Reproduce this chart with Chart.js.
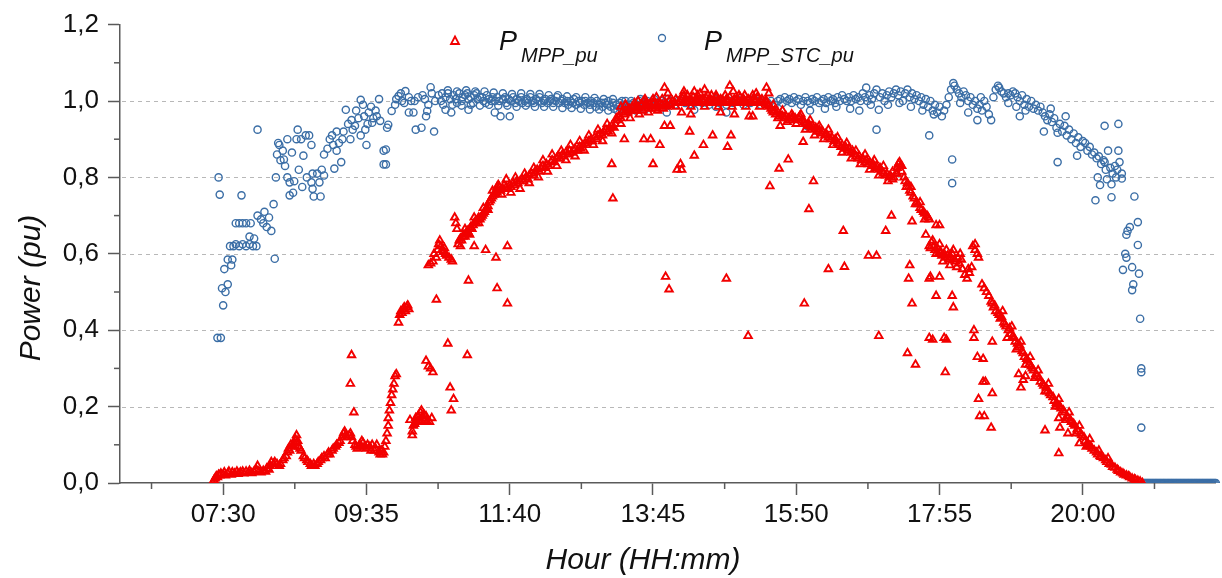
<!DOCTYPE html>
<html>
<head>
<meta charset="utf-8">
<script src="https://cdn.jsdelivr.net/npm/chart.js@4.4.1/dist/chart.umd.min.js"></script>
<style>
  body { margin: 0; background: #fff; }
  canvas { display: block; }
</style>
</head>
<body>
<canvas id="myChartScatter" width="1222" height="578"></canvas>
<script>
// x = minutes after midnight, y = power in pu
let hourTicks = [450, 575, 700, 825, 950, 1075, 1200];
let hourMinorTicks = [387.5, 512.5, 637.5, 762.5, 887.5, 1012.5, 1137.5, 1262.5];
let powerGrid = [0.2, 0.4, 0.6, 0.8, 1.0];
let powerMinorTicks = [0.1, 0.3, 0.5, 0.7, 0.9, 1.1];

// P_MPP_pu - main band
let mppBand = [
    [441,0.000],[442,0.008],[443,0.012],[444,0.018],[445,0.015],[446,0.022],[447,0.02],[448,0.025],[450,0.022],[451,0.028],
    [452,0.02],[454,0.025],[455,0.03],[457,0.022],[458,0.028],[460,0.025],[462,0.03],[463,0.024],[465,0.028],[467,0.03],
    [468,0.025],[470,0.03],[472,0.027],[473,0.032],[475,0.026],[477,0.03],[479,0.035],[480,0.045],[481,0.03],[483,0.028],
    [485,0.032],[487,0.03],[488,0.038],[490,0.035],[491,0.045],[492,0.055],[494,0.05],[495,0.055],[497,0.05],[499,0.045],
    [500,0.05],[502,0.06],[503,0.065],[505,0.07],[506,0.08],[507,0.09],[508,0.085],[509,0.1],[510,0.095],[511,0.1],
    [512,0.105],[513,0.115],[514,0.125],[514,0.105],[515,0.11],[516,0.095],[517,0.09],[518,0.085],[520,0.07],[521,0.065],
    [523,0.06],[524,0.055],[526,0.05],[527,0.045],[529,0.05],[530,0.045],[532,0.05],[533,0.055],[535,0.06],[536,0.065],
    [538,0.07],[539,0.065],[541,0.075],[542,0.08],[543,0.075],[545,0.085],[546,0.09],[548,0.095],[549,0.1],[551,0.105],
    [552,0.11],[554,0.12],[555,0.13],[556,0.135],[557,0.125],[558,0.12],[560,0.125],[561,0.13],[562,0.12],[563,0.11],
    [565,0.1],[566,0.095],[567,0.09],[569,0.1],[570,0.095],[571,0.11],[572,0.105],[574,0.095],[575,0.09],[576,0.1],
    [578,0.095],[579,0.085],[580,0.1],[582,0.085],[583,0.09],[584,0.1],[586,0.08],[587,0.075],[588,0.085],[589,0.075],
    [590,0.08],[591,0.095],[592,0.11],[593,0.13],[594,0.15],[594,0.17],[595,0.19],[596,0.21],[597,0.23],[598,0.245],
    [599,0.26],[600,0.28],[601,0.285],
    [603,0.42],[604,0.44],[605,0.45],[606,0.445],[607,0.455],[608,0.46],[609,0.45],[610,0.46],[611,0.465],[612,0.455],
    [613,0.165],[615,0.125],[615,0.135],[616,0.15],[617,0.155],[618,0.17],[619,0.16],[620,0.175],[621,0.165],[622,0.185],
    [622,0.16],[623,0.19],[624,0.17],[625,0.18],[626,0.165],[627,0.175],[628,0.16],[630,0.16],[632,0.17],
    [627,0.32],[629,0.305],[631,0.30],[633,0.29],
    [629,0.57],[631,0.575],[633,0.58],[634,0.6],[636,0.59],[637,0.61],[638,0.625],[639,0.635],[640,0.62],[641,0.61],
    [642,0.605],[643,0.615],[644,0.6],[645,0.595],[647,0.59],[649,0.585],[650,0.58],[652,0.695],[653,0.68],[654,0.665],
    [655,0.625],[656,0.635],[657,0.64],[658,0.635],[659,0.645],[660,0.65],[661,0.645],[662,0.655],[663,0.66],[664,0.655],
    [665,0.665],[666,0.67],[667,0.665],[668,0.675],[669,0.68],[670,0.685],[671,0.68],[672,0.69],[673,0.695],[674,0.69],
    [675,0.695],[676,0.7],[677,0.705],[678,0.71],[679,0.715],[680,0.72],[681,0.725],[682,0.735],[683,0.74],[684,0.745],
    [685,0.75],[686,0.755],[687,0.76],[688,0.765],[689,0.775],[690,0.78],
    [691,0.775],[692,0.765],[694,0.77],[695,0.78],[697,0.775],[698,0.77],[700,0.78],[701,0.775],[703,0.785],[704,0.78],
    [706,0.79],[707,0.785],[709,0.79],[711,0.795],[712,0.79],[714,0.8],[716,0.795],[717,0.805],[719,0.81],[721,0.805],
    [722,0.815],[724,0.82],[726,0.815],[727,0.825],[729,0.83],[731,0.825],[732,0.835],[734,0.83],[736,0.84],[737,0.845],
    [739,0.84],[741,0.85],[742,0.855],[744,0.85],[746,0.86],[747,0.855],[749,0.865],[751,0.86],[752,0.87],[754,0.865],
    [756,0.87],[757,0.875],[759,0.87],[761,0.88],[762,0.875],[764,0.885],[766,0.89],[767,0.885],[769,0.895],[771,0.9],
    [772,0.895],[774,0.905],[776,0.9],[777,0.91],[779,0.915],[781,0.91],[782,0.92],[784,0.925],[786,0.92],[787,0.93],
    [789,0.935],[791,0.93],[792,0.94],
    [794,0.95],[795,0.96],[797,0.955],[798,0.97],[800,0.965],[801,0.975],[803,0.97],[804,0.98],[806,0.975],[807,0.985],
    [809,0.98],[810,0.975],[812,0.985],[813,0.98],[815,0.99],[816,0.975],[818,0.985],[819,0.995],[821,0.98],[822,0.99],
    [824,0.985],[825,0.995],[827,0.98],[828,0.99],[830,0.985],[831,0.995],[833,0.99],[834,0.98],[836,0.995],[837,0.985],
    [839,1.0],[840,0.99],
    [842,1.0],[844,0.995],[845,1.005],[847,0.995],[848,1.0],[850,1.01],[851,0.995],[853,1.005],[854,1.0],[856,0.995],
    [857,1.005],[859,1.0],[860,1.01],[862,0.995],[863,1.005],[865,1.0],[866,0.995],[868,1.005],[869,1.0],[871,1.01],
    [872,0.995],[874,1.0],[875,1.005],[877,0.995],[878,1.0],[880,1.01],[881,1.0],[883,0.995],[884,1.005],[886,1.0],
    [887,0.995],[889,1.005],[890,1.0],[892,1.01],[893,0.995],[895,1.0],[896,1.005],[898,0.995],[899,1.0],[901,1.01],
    [902,0.995],[904,1.005],[905,1.0],[907,0.995],[908,1.005],[910,1.0],[911,0.995],[913,1.005],[914,1.0],[916,1.01],
    [917,0.995],[919,1.0],[920,1.005],[922,0.995],[923,1.0],[925,0.99],[926,0.985],
    [928,0.98],[929,0.975],[930,0.97],[931,0.975],[932,0.965],[934,0.97],[935,0.96],[936,0.965],[938,0.96],
    [940,0.955],[941,0.96],[943,0.955],[944,0.95],[946,0.955],[947,0.96],[949,0.955],[950,0.95],[952,0.955],[953,0.96],
    [955,0.95],[957,0.945],[958,0.94],[960,0.935],[961,0.94],[963,0.93],[964,0.935],[966,0.925],[967,0.93],[969,0.92],
    [970,0.925],[972,0.915],[973,0.92],[975,0.91],[976,0.915],[978,0.905],
    [980,0.9],[981,0.905],[983,0.895],[984,0.9],[986,0.89],[987,0.885],[989,0.88],[990,0.885],[992,0.875],[993,0.88],
    [995,0.87],[996,0.875],[998,0.865],[999,0.87],[1001,0.86],
    [1002,0.855],[1004,0.85],[1005,0.855],[1007,0.845],[1008,0.85],[1010,0.84],[1011,0.845],[1013,0.835],[1014,0.84],[1016,0.83],
    [1017,0.835],[1019,0.825],[1020,0.83],[1022,0.82],[1023,0.825],[1025,0.815],
    [1026,0.81],[1028,0.805],[1029,0.81],[1031,0.8],[1032,0.805],[1034,0.795],[1035,0.8],[1037,0.81],[1038,0.825],[1039,0.835],
    [1040,0.84],[1041,0.83],[1042,0.815],[1044,0.8],[1045,0.79],[1047,0.785],
    [1048,0.775],[1049,0.765],[1050,0.76],[1052,0.75],[1053,0.745],[1055,0.735],[1056,0.73],[1058,0.72],[1059,0.715],[1061,0.71],
    [1062,0.705],[1064,0.7],[1065,0.695],[1066,0.69],
    [1066,0.62],[1067,0.615],[1068,0.63],[1070,0.62],[1071,0.61],[1073,0.615],[1074,0.6],[1076,0.605],[1077,0.595],[1079,0.6],
    [1080,0.59],[1082,0.595],[1083,0.585],[1085,0.59],[1086,0.6],[1088,0.585],[1089,0.58],[1091,0.59],[1092,0.575],[1094,0.585],
    [1095,0.56],[1097,0.545],[1099,0.535],[1101,0.55],[1103,0.565],[1104,0.62],[1106,0.61],[1108,0.6],[1109,0.59],
    [1112,0.52],[1114,0.51],[1116,0.5],[1118,0.49],
    [1120,0.475],[1121,0.47],[1122,0.46],[1123,0.465],[1124,0.45],[1126,0.445],[1127,0.44],[1128,0.43],[1129,0.435],[1131,0.42],
    [1132,0.415],[1133,0.41],[1135,0.4],[1136,0.405],[1137,0.39],[1139,0.385],[1140,0.38],[1141,0.37],[1143,0.365],[1144,0.355],
    [1145,0.36],[1147,0.345],[1148,0.34],[1149,0.33],[1151,0.325],[1152,0.32],[1153,0.31],[1155,0.305],[1156,0.3],[1157,0.295],
    [1159,0.285],[1160,0.28],[1162,0.275],[1163,0.265],[1165,0.26],[1166,0.255],[1168,0.25],[1169,0.24],[1171,0.235],[1172,0.23],
    [1174,0.225],[1175,0.215],[1177,0.21],[1178,0.205],[1180,0.2],[1181,0.195],[1183,0.19],[1184,0.185],[1186,0.175],[1187,0.17],
    [1189,0.165],[1190,0.16],[1192,0.155],[1193,0.15],[1195,0.14],[1196,0.135],[1198,0.13],[1199,0.125],[1201,0.12],[1202,0.11],
    [1204,0.105],[1205,0.1],[1207,0.095],[1208,0.09],[1210,0.085],[1212,0.08],[1213,0.075],[1215,0.07],[1216,0.068],[1218,0.065],
    [1220,0.06],[1221,0.055],[1223,0.05],[1225,0.048],[1226,0.042],[1228,0.04],[1230,0.035],[1231,0.032],[1233,0.028],[1235,0.025],
    [1236,0.022],[1238,0.02],[1240,0.018],[1241,0.015],[1243,0.012],[1245,0.01],[1246,0.008],[1248,0.006],[1250,0.004],[1252,0.0],
    [1130,0.45],[1138,0.41],[1146,0.37],[1154,0.33],[1161,0.295],[1170,0.26],[1179,0.22],[1188,0.185],[1197,0.15],[1206,0.115],
    [1214,0.085],[1222,0.065],[1134,0.38],[1142,0.35],[1150,0.31],[1158,0.275],[1167,0.24],[1176,0.2],[1185,0.165],[1194,0.13],
    [1203,0.095]
];

// P_MPP_pu - second row that gives the band its width
let mppBandEdge = [
    [657,0.62],[661,0.665],[665,0.65],[669,0.695],[673,0.68],[677,0.72],[681,0.715],[685,0.765],[689,0.76],
    [693,0.755],[697,0.795],[701,0.76],[705,0.8],[709,0.77],[713,0.81],[717,0.785],[721,0.825],[725,0.8],[729,0.845],
    [733,0.815],[737,0.86],[741,0.83],[745,0.87],[749,0.845],[753,0.885],[757,0.855],[761,0.895],[765,0.87],[769,0.91],
    [773,0.885],[777,0.925],[781,0.895],[785,0.94],[789,0.915],[793,0.955],[797,0.94],[801,0.99],[805,0.955],[809,0.995],
    [813,0.965],[817,1.0],[821,0.97],[825,1.005],[829,0.975],
    [845,0.985],[852,1.015],[858,0.985],[864,1.015],[870,0.985],[876,1.015],[882,0.985],[888,1.015],[894,0.985],[900,1.015],
    [906,0.985],[912,1.015],[918,0.985],[924,1.0],
    [930,0.99],[934,0.955],[938,0.975],[942,0.945],[946,0.965],[950,0.94],[954,0.965],[958,0.925],[962,0.95],[966,0.91],
    [970,0.935],[974,0.9],[978,0.925],[982,0.885],[986,0.905],[990,0.865],[994,0.89],[998,0.85],[1002,0.87],[1006,0.835],
    [1010,0.86],[1014,0.82],[1018,0.845],[1022,0.805],[1026,0.83],[1030,0.79],[1034,0.815],[1038,0.81],[1042,0.83],[1046,0.775],
    [1050,0.775],[1054,0.73],[1058,0.735],[1062,0.69],
    [1069,0.635],[1072,0.6],[1075,0.625],[1078,0.58],[1081,0.61],[1084,0.57],[1087,0.61],[1090,0.565],[1093,0.6],[1100,0.56],
    [1106,0.625]
];

// P_MPP_pu - scattered points
let mppScatter = [
    [562,0.335],[561,0.26],[564,0.185],[636,0.48],[646,0.365],[648,0.25],[651,0.22],[649,0.19],
    [663,0.335],[664,0.53],[689,0.51],[698,0.47],[669,0.62],[679,0.61],[688,0.59],[698,0.62],
    [789,0.835],[790,0.745],
    [800,0.9],[817,0.9],[823,0.9],[825,0.835],[831,0.885],[835,0.935],[840,0.935],[846,0.82],[850,0.82],[849,0.835],
    [857,0.92],[861,0.857],[869,0.885],[877,0.91],[890,0.88],[893,0.91],[909,0.96],[927,0.777],[935,0.823],[936,0.935],
    [943,0.847],[956,0.893],[965,0.79],[961,0.717],[978,0.56],[991,0.66],[992,0.566],[957,0.47],[1013,0.595],[1020,0.595],
    [836,0.54],[839,0.507],[889,0.535],[908,0.385],[1022,0.385],
    [835,1.035],[852,1.025],[861,1.025],[870,1.03],[892,1.04],[924,1.035],[838,1.02],[855,1.015],[873,1.015],[895,1.025],
    [926,1.02],[866,1.02],[880,1.015],[905,1.015],[915,1.02],
    [850,0.97],[858,0.965],[884,0.97],[896,0.965],[912,0.96],
    [797,0.985],[801,0.99],[812,1.0],[818,1.005],[828,1.01],[833,1.005],
    [1033,0.70],[1028,0.66],[1051,0.685],[1063,0.65],[1072,0.675],[1075,0.675],[1049,0.57],[1048,0.535],[1066,0.535],[1067,0.54],
    [1075,0.54],[1072,0.49],[1051,0.47],[1086,0.49],[1087,0.46],[1066,0.38],[1069,0.375],[1079,0.38],[1081,0.375],[1047,0.34],
    [1054,0.31],[1080,0.29],[1105,0.40],[1105,0.38],[1108,0.33],[1113,0.325],[1121,0.37],[1113,0.265],[1115,0.265],[1121,0.235],
    [1109,0.22],[1110,0.175],[1114,0.175],[1120,0.145],[1144,0.285],[1146,0.25],[1148,0.27],[1150,0.28],[1167,0.138],[1179,0.17],
    [1180,0.145],[1179,0.078],[1187,0.13],[1197,0.104]
];

// P_MPP_STC_pu - daylight points
let stcBand = [
    [445,0.38],[448,0.38],[450,0.465],[449,0.51],[452,0.50],[454,0.52],[451,0.56],[458,0.585],[454,0.585],[457,0.57],
    [446,0.80],[447,0.755],[466,0.753],
    [456,0.62],[459,0.62],[461,0.625],[464,0.62],[467,0.625],[470,0.62],[473,0.625],[476,0.62],[479,0.62],
    [461,0.68],[464,0.68],[467,0.68],[470,0.68],[474,0.68],[473,0.645],[477,0.64],[480,0.925],
    [480,0.70],[483,0.69],[486,0.71],[488,0.67],[490,0.695],[492,0.66],[485,0.68],[494,0.73],[495,0.587],[496,0.80],
    [497,0.86],[499,0.885],[500,0.845],[502,0.87],[504,0.83],[506,0.9],[503,0.847],[498,0.89],
    [510,0.865],[514,0.9],[515,0.925],[522,0.91],[520,0.857],[527,0.885],[525,0.91],[518,0.9],
    [506,0.80],[508,0.787],[508,0.753],[511,0.76],[516,0.82],[523,0.80],[528,0.81],[532,0.81],[527,0.787],[534,0.787],
    [528,0.77],[529,0.75],[535,0.75],[538,0.805],[536,0.82],[547,0.823],[553,0.84],[512,0.79],[519,0.775],
    [538,0.86],[541,0.875],[543,0.9],[546,0.885],[549,0.87],[551,0.89],[545,0.91],[549,0.92],
    [554,0.9],[555,0.92],[557,0.977],[559,0.94],[561,0.9],[562,0.95],[563,0.925],[565,0.935],[568,0.955],[570,1.003],
    [570,0.91],[573,0.96],[574,0.925],[575,0.885],[576,0.94],[577,0.97],[580,0.943],[581,0.955],[583,0.975],[586,1.005],
    [587,0.948],[590,0.87],[592,0.873],[590,0.834],[592,0.834],[593,0.93],[594,0.938],[566,0.975],[572,0.99],[579,0.985],
    [584,0.96],
    [597,0.974],[600,0.99],[603,1.013],[606,1.0],[609,1.026],[612,1.01],[614,1.0],[612,0.97],[616,0.97],[618,0.925],
    [623,0.93],[634,0.92],[627,0.96],[628,0.974],[632,1.02],[635,1.0],[631,1.036],[601,1.005],[605,1.02],[608,0.995],
    [620,1.01],[624,1.015],[617,1.0],[626,1.005],[629,0.99],
    [638,1.015],[641,1.02],[644,1.01],[644,0.977],[646,1.02],[649,0.97],[651,1.015],[653,1.005],[656,1.02],[659,1.01],
    [661,1.015],[664,0.977],[664,1.005],[666,1.01],[669,1.015],[672,1.005],[674,1.01],[677,1.0],[680,1.015],[682,1.005],
    [685,1.01],[687,0.97],[687,1.0],[640,1.0],[648,1.005],[654,0.995],[658,1.0],[663,1.02],[668,0.995],[671,1.02],
    [676,1.01],[679,0.995],[684,1.0],
    [689,1.01],[691,1.0],[692,0.96],[694,1.005],[696,1.01],[697,0.995],[699,1.005],[700,0.96],[701,1.0],[703,1.01],
    [705,0.995],[706,1.005],[708,1.0],[710,1.01],[711,0.995],[713,1.0],[715,1.005],[716,0.995],[718,1.01],[720,1.0],
    [721,0.995],[723,1.005],[725,1.0],[726,1.01],[728,0.995],[730,1.0],[731,1.005],[733,0.995],[735,1.0],[736,1.005],
    [738,0.995],[740,1.0],[741,1.01],[743,0.995],[745,1.0],[746,1.005],[748,0.995],[750,1.0],[751,0.99],[753,1.0],
    [755,0.995],[756,1.005],[758,0.99],[760,1.0],[761,0.995],[763,1.0],[765,0.99],[766,1.0],[768,0.995],[770,0.99],
    [771,1.0],[773,0.995],[775,0.985],[776,1.0],[778,0.99],[780,0.995],[781,0.985],[783,0.995],[785,0.99],[786,1.0],
    [788,0.985],[790,0.995],[791,0.98],[793,0.99],[795,0.985],[796,0.995],[798,0.98],[800,0.99],[801,1.0],[803,0.985],
    [805,0.99],[806,0.98],[808,0.995],[810,0.985],[811,0.99],[813,1.0],[815,0.985],[816,0.995],[818,0.99],
    [642,0.99],[646,1.028],[650,0.99],[654,1.025],[658,0.988],[662,1.028],[666,0.99],[670,1.025],[674,0.988],[678,1.025],
    [682,0.99],[686,1.022],[690,0.988],[694,1.02],[698,0.988],[702,1.018],[706,0.985],[710,1.02],[714,0.988],[718,1.018],
    [722,0.985],[726,1.018],[730,0.985],[734,1.015],[738,0.985],[742,1.015],[746,0.982],[750,1.012],[754,0.982],[758,1.01],
    [762,0.98],[766,1.01],[770,0.978],[774,1.008],[778,0.978],[782,1.005],[786,0.975],[790,1.005],[794,0.975],[798,1.0],
    [802,0.975],[806,1.0],[810,0.975],[814,1.005],[818,0.978],
    [820,1.0],[823,0.995],[826,1.005],[829,0.99],[832,1.0],[835,0.995],[838,1.005],[841,1.0],[844,0.99],[847,1.0],
    [850,1.005],[853,0.995],[856,1.0],[859,0.99],[862,1.0],[865,1.005],[868,0.995],[871,1.0],[874,0.99],[877,1.0],
    [880,1.005],[883,0.995],[886,1.0],[889,0.99],[892,1.0],[895,0.995],[898,1.005],[901,1.0],[904,0.99],[907,1.0],
    [910,0.995],[913,1.005],[916,1.0],[919,0.99],[922,1.0],[925,0.995],[928,1.0],[931,0.99],
    [837,0.97],[861,0.977],[889,0.97],[880,0.985],
    [934,1.0],[936,1.005],[938,0.995],[940,1.01],[942,1.0],[944,1.005],[946,0.995],[948,1.01],[950,1.0],[952,1.005],
    [954,0.99],[956,1.0],[958,1.01],[960,1.0],[962,0.995],[964,1.005],[966,1.0],[968,1.01],[970,0.995],[972,1.0],
    [974,1.005],[976,0.995],[978,1.01],[980,1.0],[982,1.005],[984,0.995],[986,1.01],[988,1.0],[990,1.015],[992,1.005],
    [994,1.0],[996,1.01],[998,1.0],[1000,1.015],[1002,1.005],[1004,1.01],[1006,1.0],[1008,1.02],[1010,1.01],[1011,1.035],
    [1012,1.0],[1014,1.015],[1016,1.005],[1018,1.02],[1020,1.03],[1020,0.925],[1022,0.977],[959,0.935],[962,0.975],[975,0.98],
    [985,0.985],[997,0.98],[1005,0.975],[1015,0.99],
    [1023,1.01],[1025,1.02],[1027,1.0],[1029,1.015],[1031,1.025],[1033,1.01],[1035,1.02],[1037,1.03],[1039,1.015],[1041,1.025],
    [1043,1.0],[1045,1.02],[1047,1.03],[1049,1.01],[1051,1.02],[1053,1.005],[1055,1.015],[1057,1.0],[1059,1.01],[1061,0.99],
    [1063,1.005],[1065,0.985],[1067,1.0],[1069,0.975],[1071,0.99],[1073,0.97],[1075,0.985],[1077,0.96],[1079,0.975],[1081,0.99],
    [1083,1.01],[1066,0.91],[1086,0.847],[1086,0.785],[1030,0.99],[1040,0.995],[1050,0.985],[1060,0.975],[1070,0.965],
    [1085,1.03],[1087,1.047],[1088,1.04],[1090,1.03],[1092,1.02],[1094,1.01],[1096,1.025],[1098,1.015],[1100,1.0],[1102,1.01],
    [1104,0.99],[1106,1.0],[1108,0.95],[1108,0.98],[1110,0.99],[1112,0.975],[1114,1.0],[1116,0.985],[1118,0.965],[1120,0.95],
    [1093,0.995],[1100,0.97],[1111,1.01],
    [1122,1.01],[1124,1.03],[1126,1.04],[1127,1.035],[1129,1.025],[1131,1.02],[1133,1.01],[1135,1.02],[1137,1.015],[1139,1.025],
    [1141,1.02],[1143,1.01],[1145,0.96],[1145,1.0],[1147,1.015],[1149,0.99],[1151,1.005],[1153,0.985],[1155,1.0],[1157,0.98],
    [1159,0.99],[1161,0.975],[1163,0.985],[1142,0.985],[1150,0.975],[1135,0.995],
    [1165,0.97],[1166,0.92],[1167,0.96],[1169,0.95],[1171,0.965],[1173,0.945],[1175,0.955],[1177,0.93],[1178,0.917],[1178,0.84],
    [1180,0.94],[1182,0.92],[1184,0.935],[1186,0.91],[1188,0.925],[1190,0.9],[1192,0.915],[1194,0.89],[1195,0.857],[1196,0.905],
    [1198,0.88],[1200,0.895],[1202,0.89],[1204,0.87],[1206,0.88],[1208,0.86],[1185,0.96],[1172,0.98],
    [1210,0.865],[1212,0.85],[1214,0.855],[1216,0.835],[1218,0.845],[1220,0.82],[1222,0.87],[1224,0.825],[1226,0.81],[1228,0.83],
    [1230,0.82],[1232,0.84],[1234,0.81],[1219,0.935],[1231,0.94],[1211,0.74],[1225,0.748],[1245,0.75],[1215,0.78],[1225,0.782],
    [1234,0.797],[1231,0.87],[1219,0.84],[1213,0.8],[1221,0.795],[1229,0.8],
    [1248,0.683],[1241,0.67],[1239,0.66],[1238,0.65],[1248,0.623],[1237,0.6],[1238,0.59],[1235,0.558],[1243,0.565],[1249,0.548],
    [1244,0.52],[1243,0.505],[1250,0.43],[1251,0.30],[1251,0.29],[1251,0.145]
];

// P_MPP_STC_pu - after sunset
let stcNight = [
    [1253,0],[1254,0],[1255,0],[1256,0],[1257,0],[1258,0],[1259,0],[1260,0],[1261,0],[1262,0],
    [1263,0],[1264,0],[1265,0],[1266,0],[1267,0],[1268,0],[1269,0],[1270,0],[1271,0],[1272,0],
    [1273,0],[1274,0],[1275,0],[1276,0],[1277,0],[1278,0],[1279,0],[1280,0],[1281,0],[1282,0],
    [1283,0],[1284,0],[1285,0],[1286,0],[1287,0],[1288,0],[1289,0],[1290,0],[1291,0],[1292,0],
    [1293,0],[1294,0],[1295,0],[1296,0],[1297,0],[1298,0],[1299,0],[1300,0],[1301,0],[1302,0],
    [1303,0],[1304,0],[1305,0],[1306,0],[1307,0],[1308,0],[1309,0],[1310,0],[1311,0],[1312,0],
    [1313,0],[1314,0],[1315,0],[1316,0]
];

let redColor = '#f20000';
let blueColor = '#3b6ea6';
let axisColor = '#5a5a5a';

function toPoints(list) {
    return list.map(function (p) { return { x: p[0], y: p[1] }; });
}

function hourLabel(v) {
    let h = Math.floor(v / 60);
    let m = Math.round(v % 60);
    return (h < 10 ? '0' : '') + h + ':' + (m < 10 ? '0' : '') + m;
}

let extras = {
    id: 'extras',
    beforeDatasetsDraw(chart) {
        let ctx = chart.ctx;
        let a = chart.chartArea;
        let x = chart.scales.x;
        let y = chart.scales.y;
        ctx.save();
        // dashed grid
        ctx.strokeStyle = '#b8b8b8';
        ctx.lineWidth = 1;
        ctx.setLineDash([4, 4]);
        powerGrid.forEach(function (v) {
            let py = Math.round(y.getPixelForValue(v)) + 0.5;
            ctx.beginPath();
            ctx.moveTo(a.left + 2, py);
            ctx.lineTo(a.right, py);
            ctx.stroke();
        });
        ctx.setLineDash([]);
        // minor ticks
        ctx.strokeStyle = axisColor;
        ctx.lineWidth = 1.5;
        hourMinorTicks.forEach(function (v) {
            let px = x.getPixelForValue(v);
            ctx.beginPath();
            ctx.moveTo(px, a.bottom);
            ctx.lineTo(px, a.bottom + 6);
            ctx.stroke();
        });
        powerMinorTicks.forEach(function (v) {
            let py = y.getPixelForValue(v);
            ctx.beginPath();
            ctx.moveTo(a.left - 6, py);
            ctx.lineTo(a.left, py);
            ctx.stroke();
        });
        ctx.restore();
    },
    afterDraw(chart) {
        let ctx = chart.ctx;
        ctx.save();
        ctx.fillStyle = '#111';
        // axis titles
        ctx.font = 'italic 30px "Liberation Sans", Arial, sans-serif';
        ctx.textAlign = 'center';
        ctx.textBaseline = 'alphabetic';
        ctx.fillText('Hour (HH:mm)', 643, 569);
        ctx.translate(40, 288);
        ctx.rotate(-Math.PI / 2);
        ctx.fillText('Power (pu)', 0, 0);
        ctx.setTransform(1, 0, 0, 1, 0, 0);

        // legend
        ctx.textAlign = 'left';
        ctx.font = 'italic 27px "Liberation Sans", Arial, sans-serif';
        ctx.fillText('P', 499, 50);
        ctx.fillText('P', 704, 50);
        ctx.font = 'italic 20px "Liberation Sans", Arial, sans-serif';
        ctx.fillText('MPP_pu', 521, 62);
        ctx.fillText('MPP_STC_pu', 726, 62);

        ctx.lineWidth = 1.8;
        ctx.strokeStyle = redColor;
        ctx.beginPath();
        ctx.moveTo(455, 36.5);
        ctx.lineTo(459, 44);
        ctx.lineTo(451, 44);
        ctx.closePath();
        ctx.stroke();
        ctx.strokeStyle = blueColor;
        ctx.lineWidth = 1.3;
        ctx.beginPath();
        ctx.arc(662, 38, 3.5, 0, Math.PI * 2);
        ctx.stroke();
        ctx.restore();
    }
};

let tickFont = { family: '"Liberation Sans", Arial, sans-serif', size: 26 };

new Chart(document.getElementById('myChartScatter'), {
    type: 'scatter',
    data: {
        datasets: [{
            label: 'P_MPP_pu',
            data: toPoints(mppBand.concat(mppBandEdge, mppScatter)),
            pointStyle: 'triangle',
            pointRadius: 4.3,
            borderWidth: 1.9,
            borderColor: redColor,
            backgroundColor: 'rgba(255,255,255,0)'
        }, {
            label: 'P_MPP_STC_pu',
            data: toPoints(stcBand.concat(stcNight)),
            pointStyle: 'circle',
            pointRadius: 3.6,
            borderWidth: 1.4,
            borderColor: blueColor,
            backgroundColor: 'rgba(255,255,255,0)',
            clip: { left: false, top: false, right: false, bottom: 0 }
        }]
    },
    options: {
        responsive: false,
        animation: false,
        events: [],
        layout: { padding: { top: 21, right: 0, left: 0, bottom: 0 } },
        plugins: {
            legend: { display: false },
            tooltip: { enabled: false }
        },
        scales: {
            x: {
                type: 'linear',
                min: 360,
                max: 1316,
                afterFit: function (s) { s.height = 95; },
                afterBuildTicks: function (s) {
                    s.ticks = hourTicks.map(function (v) { return { value: v }; });
                },
                grid: { drawOnChartArea: false, tickLength: 12, tickColor: axisColor, tickWidth: 1.5 },
                border: { color: axisColor, width: 1.5 },
                ticks: {
                    color: '#111',
                    font: tickFont,
                    padding: 4,
                    maxRotation: 0,
                    autoSkip: false,
                    callback: function (v) { return hourLabel(v); }
                }
            },
            y: {
                min: 0,
                max: 1.2,
                afterFit: function (s) { s.width = 120; },
                grid: { drawOnChartArea: false, tickLength: 12, tickColor: axisColor, tickWidth: 1.5 },
                border: { color: axisColor, width: 1.5 },
                ticks: {
                    stepSize: 0.2,
                    color: '#111',
                    font: tickFont,
                    padding: 9,
                    callback: function (v) { return v.toFixed(1).replace('.', ','); }
                }
            }
        }
    },
    plugins: [extras]
});
</script>
</body>
</html>
